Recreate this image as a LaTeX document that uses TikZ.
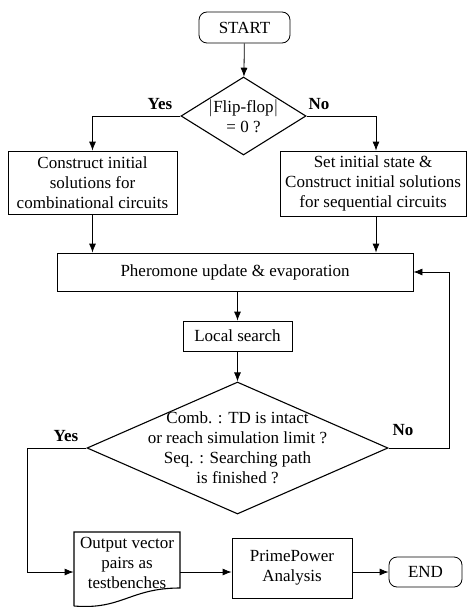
\documentclass[tikz,border=0pt]{standalone}
\usepackage{fontspec}
\setmainfont{Liberation Serif}
\usetikzlibrary{shapes.geometric}
\usetikzlibrary{arrows.meta}

\begin{document}
\begin{tikzpicture}[x=1pt,y=-1pt,
    font=\fontsize{17}{20}\selectfont,
    >={Latex[length=9pt,width=7pt]},
    every path/.style={line width=0.8pt},
    process/.style={draw,rectangle,inner sep=0pt,align=center},
    terminal/.style={draw,rectangle,rounded corners=8pt,inner sep=0pt},
    decision/.style={draw,diamond,inner sep=0pt,line width=1.1pt},
    answer/.style={font=\fontsize{17}{20}\selectfont\bfseries}]
  \useasboundingbox (0,0) rectangle (469,607);
  \node[terminal,minimum width=91pt,minimum height=31pt] (start) at (244.5,27.5) {START};
  \node[decision,minimum width=125pt,minimum height=78pt,
        label={[align=center]center:$|$Flip-flop$|$\\= 0 ?}] (ff) at (243.5,116) {};
  \node[process,minimum width=169pt,minimum height=63pt] (comb) at (92.5,182.5)
    {Construct initial\\solutions for\\combinational circuits};
  \node[process,minimum width=186pt,minimum height=65pt] (seq) at (373,183.5)
    {Set initial state \&\\Construct initial solutions\\for sequential circuits};
  \node[process,minimum width=356pt,minimum height=38pt] (pher) at (235,272)
    {Pheromone update \& evaporation};
  \node[process,minimum width=109pt,minimum height=30pt] (local) at (237.5,336)
    {Local search};
  \node[decision,minimum width=301pt,minimum height=132pt,
        label={[align=center]center:Comb. : TD is intact\\or reach simulation limit ?\\Seq. : Searching path\\is finished ?}]
        (check) at (237.5,448) {};
  \node[rectangle,inner sep=0pt,minimum width=106pt,minimum height=60pt,align=center] (out) at (127,563)
    {Output vector\\pairs as\\testbenches};
  \draw[line width=1.1pt] (74,606) -- (74,532) -- (180,532) -- (180,588)
    .. controls (130,588) and (122,610) .. (74,606);
  \node[process,minimum width=120pt,minimum height=60pt] (prime) at (292,568)
    {PrimePower\\Analysis};
  \node[terminal,minimum width=73pt,minimum height=30pt] (end) at (425.5,572) {END};
  \node[answer] (yes1) at (160,104) {Yes};
  \node[answer] (no1) at (319,104) {No};
  \node[answer] (yes2) at (66,436) {Yes};
  \node[answer] (no2) at (403,430) {No};
  \coordinate (loop) at (449,272);
  \coordinate (down) at (27,572);
  \draw[->] (start) -- (ff);
  \draw[->] (ff.west) -| (comb.north);
  \draw[->] (ff.east) -| ([xshift=3pt]seq.north);
  \draw[->] (comb.south) -- (comb.south |- pher.north);
  \draw[->] ([xshift=3pt]seq.south) -- ([xshift=3pt]seq.south |- pher.north);
  \draw[->] (pher.south -| local) -- (local);
  \draw[->] (local) -- (check);
  \draw[->] (check.east) -| (loop) -- (pher.east);
  \draw[->] (check.west) -| (down) -- (down -| out.west);
  \draw[->] (out.east |- down) -- (prime.west |- down);
  \draw[->] (prime.east |- down) -- (end);
\end{tikzpicture}
\end{document}
